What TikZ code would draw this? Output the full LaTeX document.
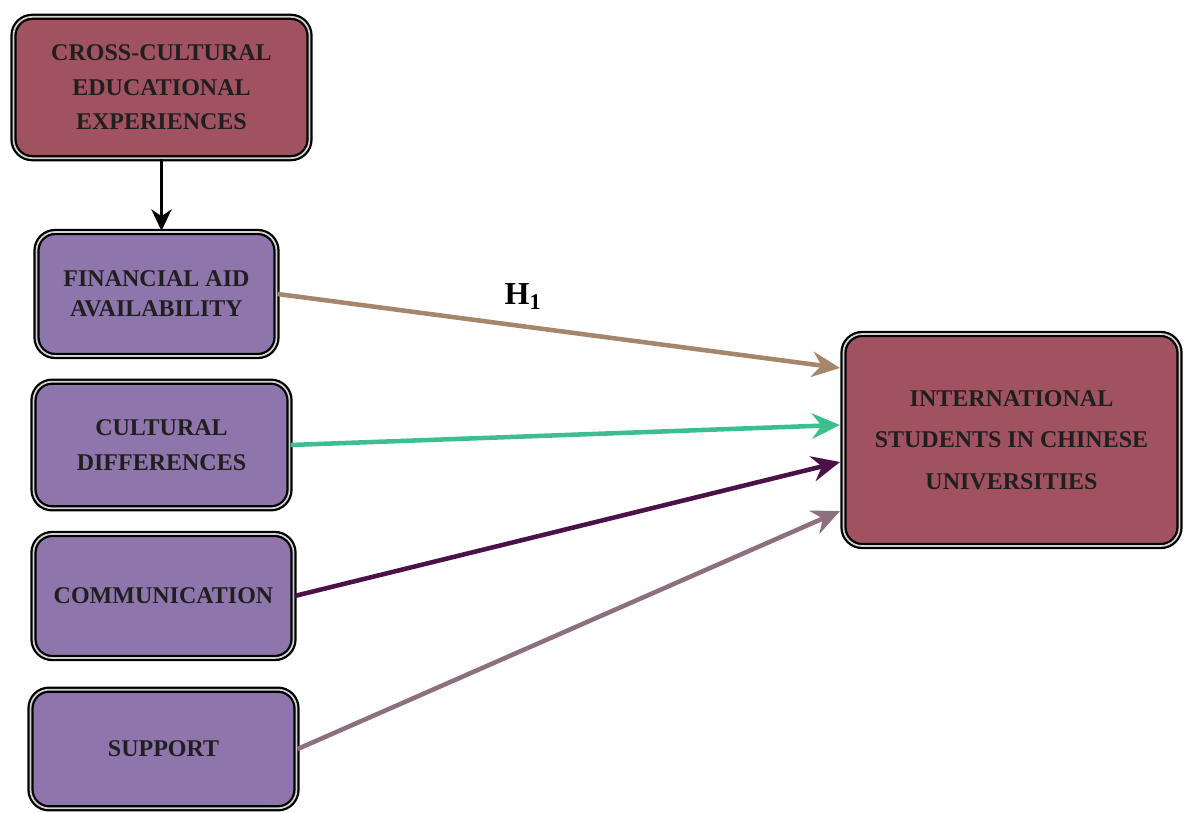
\documentclass[tikz,border=0pt]{standalone}
\usepackage{fontspec}
\setmainfont{Liberation Serif}
\usetikzlibrary{arrows.meta,shadows}
\definecolor{rosebox}{RGB}{160,82,96}
\definecolor{lilacbox}{RGB}{142,118,172}
\definecolor{hbrown}{RGB}{166,134,106}
\definecolor{hteal}{RGB}{60,190,142}
\definecolor{hplum}{RGB}{75,18,72}
\definecolor{hmauve}{RGB}{140,112,128}

\begin{document}
\begin{tikzpicture}[x=0.75pt, y=-0.75pt,
  box/.style={rounded corners=14pt, draw=black, line width=1.7pt,
    double=gray!35, double distance=1.3pt, align=center, inner sep=0pt,
    text=black!88, font=\bfseries\fontsize{18}{26}\selectfont,
    drop shadow={opacity=0.25, shadow xshift=1.5pt, shadow yshift=-1.5pt}},
  outcome/.style={box, fill=rosebox},
  factor/.style={box, fill=lilacbox},
  link/.style={line width=3.4pt, -{Stealth[length=21pt, width=19pt, inset=7pt]}}]
  \useasboundingbox (0,0) rectangle (1186,813);

  \node[outcome, minimum width=222, minimum height=106] (cce) at (161.5, 87.5)
       {CROSS-CULTURAL\\EDUCATIONAL\\EXPERIENCES};
  \node[factor, minimum width=180, minimum height=93,
        font=\bfseries\fontsize{18}{22.5}\selectfont] (fin) at (156.5, 294)
       {FINANCIAL AID\\AVAILABILITY};
  \node[factor, minimum width=192, minimum height=95] (cul) at (161.5, 445)
       {CULTURAL\\DIFFERENCES};
  \node[factor, minimum width=195, minimum height=93] (com) at (163.5, 596)
       {COMMUNICATION};
  \node[factor, minimum width=199.5, minimum height=89] (sup) at (163.5, 749)
       {SUPPORT};
  \node[outcome, minimum width=252, minimum height=159,
        font=\bfseries\fontsize{18}{31}\selectfont] (isc) at (1011.5, 440)
       {INTERNATIONAL\\STUDENTS IN CHINESE\\UNIVERSITIES};

  % arrow tips on the left side of the outcome box
  \coordinate (t1) at (840, 368);
  \coordinate (t2) at (840, 425);
  \coordinate (t3) at (840, 462);
  \coordinate (t4) at (840, 511);

  \draw [black, line width=2.8pt, -{Stealth[length=16pt, width=15pt, inset=5pt]}]
        (cce.south) -- (cce.south |- fin.north);
  \draw [link, hbrown] (fin.east) -- (t1);
  \draw [link, hteal] (cul.east) -- (t2);
  \draw [link, hplum] (com.east) -- (t3);
  \draw [link, hmauve] (sup.east) -- (t4);

  \node [font=\bfseries\fontsize{24}{28}\selectfont] (hyp) at (523, 297)
        {H\textsubscript{1}};
\end{tikzpicture}
\end{document}
